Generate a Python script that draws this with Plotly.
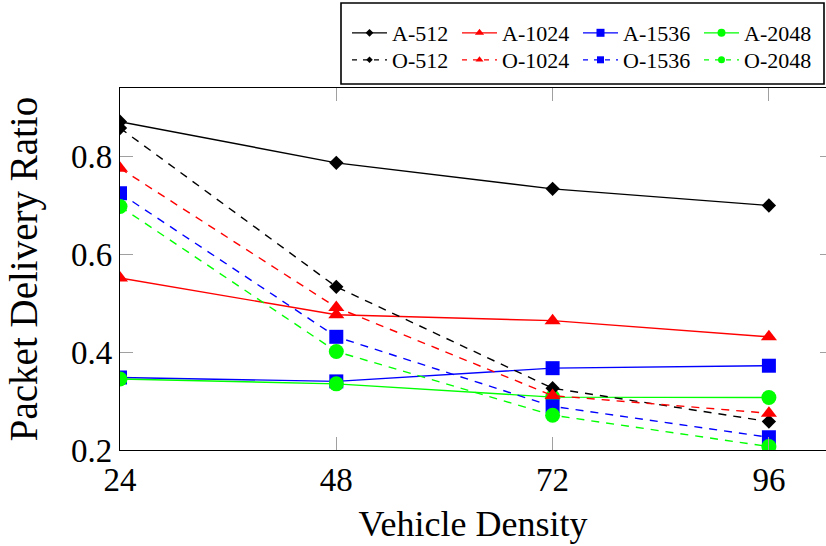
import plotly.graph_objects as go

# Vehicle density on the x axis
density = [24, 48, 72, 96]

# Packet delivery ratio per scheme / packet size
a_512 = [0.870, 0.786, 0.733, 0.699]
a_1024 = [0.551, 0.476, 0.464, 0.431]
a_1536 = [0.348, 0.340, 0.367, 0.372]
a_2048 = [0.345, 0.335, 0.308, 0.307]
o_512 = [0.857, 0.533, 0.326, 0.258]
o_1024 = [0.775, 0.491, 0.311, 0.275]
o_1536 = [0.724, 0.431, 0.289, 0.226]
o_2048 = [0.697, 0.401, 0.271, 0.207]

x_ticks = [24, 48, 72, 96]
y_ticks = [0.2, 0.4, 0.6, 0.8]
y_tick_text = ["0.2", "0.4", "0.6", "0.8"]

series = [
    ("A-512", a_512, "black", "diamond", "solid"),
    ("A-1024", a_1024, "#ff0000", "triangle-up", "solid"),
    ("A-1536", a_1536, "#0000ff", "square", "solid"),
    ("A-2048", a_2048, "#00ff00", "circle", "solid"),
    ("O-512", o_512, "black", "diamond", "8px,7px"),
    ("O-1024", o_1024, "#ff0000", "triangle-up", "8px,7px"),
    ("O-1536", o_1536, "#0000ff", "square", "8px,7px"),
    ("O-2048", o_2048, "#00ff00", "circle", "8px,7px"),
]

marker_size = {"diamond": 11, "triangle-up": 14, "square": 14, "circle": 15}
legend_marker_size = {"diamond": 6, "triangle-up": 8, "square": 8, "circle": 8}

# page geometry (pixels): plot area and legend grid
W, H = 826, 546
L, R, T, B = 120, 0, 88, 96
PW, PH = W - L - R, H - T - B
legend_cols = [347, 457, 578, 699]
legend_rows = [33, 60]
legend_box = (341, 3, 824, 84)


def px_x(px):
    return (px - L) / PW


def px_y(py):
    return 1 + (T - py) / PH


serif = "Liberation Serif"

fig = go.Figure()
legend_layouts = {}
for i, (name, vals, color, symbol, dash) in enumerate(series):
    key = "legend" if i == 0 else f"legend{i + 1}"
    # the plotted series
    fig.add_trace(go.Scatter(
        x=density, y=vals, name=name, mode="lines+markers",
        legend=key, legendgroup=name, showlegend=False,
        line=dict(color=color, width=1.4, dash=dash),
        marker=dict(symbol=symbol, size=marker_size[symbol],
                    color=color, line=dict(width=0)),
    ))
    # its legend entry, with a smaller key marker
    small = legend_marker_size[symbol] - (1 if name.startswith("O") else 0)
    fig.add_trace(go.Scatter(
        x=[None], y=[None], name=name, mode="lines+markers",
        legend=key, legendgroup=name, showlegend=True,
        line=dict(color=color, width=1.2, dash="5px,6px" if dash != "solid" else "solid"),
        marker=dict(symbol=symbol, size=small, color=color, line=dict(width=0)),
    ))
    legend_layouts[key] = dict(
        x=px_x(legend_cols[i % 4]), y=px_y(legend_rows[i // 4]),
        xanchor="left", yanchor="middle",
        bgcolor="rgba(0,0,0,0)", borderwidth=0,
        font=dict(family=serif, size=22, color="black"),
        itemwidth=35,
    )

# invisible trace carrying the right-hand tick marks
fig.add_trace(go.Scatter(x=[None], y=[None], yaxis="y2", showlegend=False))

x_max = 24 + PW / 216.3 * 24
y_max = 0.2 + PH / 490

fig.update_layout(
    width=W, height=H,
    margin=dict(l=L, r=R, t=T, b=B, autoexpand=False),
    paper_bgcolor="white", plot_bgcolor="white",
    font=dict(family=serif, color="black"),
    showlegend=True,
    **legend_layouts,
    xaxis=dict(
        range=[24, x_max], tickvals=x_ticks, ticktext=[str(v) for v in x_ticks],
        showgrid=False, zeroline=False, automargin=False,
        showline=True, linecolor="black", linewidth=1.2, mirror="ticks",
        ticks="inside", ticklen=13, tickcolor="#a0a0a0", tickwidth=1,
        tickfont=dict(family=serif, size=33, color="black"),
        title=dict(text="Vehicle Density", font=dict(family=serif, size=36, color="black"), standoff=14),
    ),
    yaxis=dict(
        range=[0.2, y_max], tickvals=y_ticks, ticktext=y_tick_text,
        showgrid=False, zeroline=False, automargin=False,
        showline=True, linecolor="black", linewidth=1.2, mirror=False,
        ticks="inside", ticklen=13, tickcolor="#a0a0a0", tickwidth=1,
        tickfont=dict(family=serif, size=33, color="black"),
        title=dict(text="Packet Delivery Ratio", font=dict(family=serif, size=39, color="black"), standoff=21),
    ),
    yaxis2=dict(
        overlaying="y", side="right", range=[0.2, y_max], automargin=False,
        tickvals=y_ticks[1:], showticklabels=False, showgrid=False, zeroline=False,
        showline=False, ticks="inside", ticklen=6, tickcolor="#a0a0a0", tickwidth=1,
    ),
    shapes=[dict(
        type="rect", xref="paper", yref="paper",
        x0=px_x(legend_box[0]), x1=px_x(legend_box[2]),
        y0=px_y(legend_box[3]), y1=px_y(legend_box[1]),
        line=dict(color="black", width=1.6), fillcolor="rgba(0,0,0,0)",
    )],
)

fig.write_html("out.html")
